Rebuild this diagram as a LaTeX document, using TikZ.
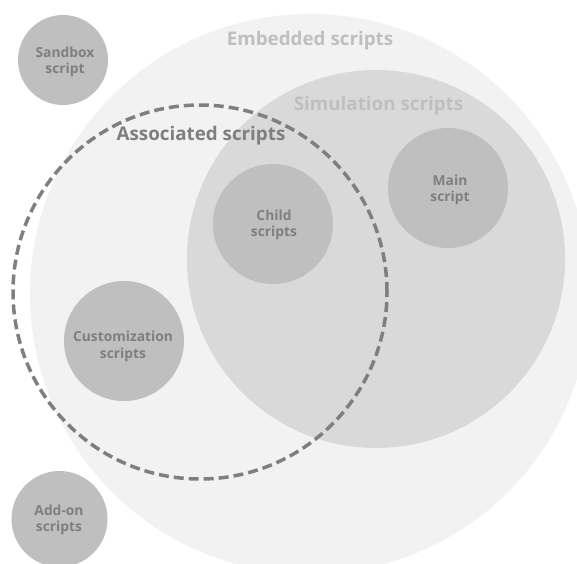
\documentclass[tikz,border=0pt]{standalone}
\usepackage{fontspec}
\setmainfont{Open Sans}
\definecolor{embfill}{HTML}{F2F2F2}
\definecolor{simfill}{HTML}{D9D9D9}
\definecolor{subfill}{HTML}{BFBFBF}
\definecolor{strongtext}{HTML}{7F7F7F}
\definecolor{softtext}{HTML}{BFBFBF}
\begin{document}
\begin{tikzpicture}[x=1pt,y=-1pt,
  blob/.style={circle, inner sep=0pt, outer sep=0pt, draw=none},
  setcircle/.style={circle, inner sep=0pt, outer sep=0pt, draw=strongtext,
    line width=3.5pt, dash pattern=on 10pt off 5pt},
  title/.style={anchor=base, inner sep=0pt, font=\fontsize{18.8}{21}\selectfont\bfseries},
  lbl/.style={align=center, inner sep=0pt, text=strongtext,
    font=\fontsize{13.8}{16.5}\selectfont\bfseries}]
\useasboundingbox (0,0) rectangle (577,563);
\clip (0,0) rectangle (577,563);

% nested sets
\node[blob, fill=embfill, minimum size=560pt] (emb) at (310,294) {};
\node[blob, fill=simfill, minimum size=378pt] (sim) at (376,259) {};

% individual script kinds
\node[blob, fill=subfill, minimum size=90pt]  (sandbox) at (63,60) {};
\node[blob, fill=subfill, minimum size=96pt]  (addon)   at (59.5,519) {};
\node[blob, fill=subfill, minimum size=120pt] (child)   at (273,224) {};
\node[blob, fill=subfill, minimum size=120pt] (main)    at (448,188) {};
\node[blob, fill=subfill, minimum size=120pt] (custom)  at (124,341) {};

% associated scripts boundary
\node[setcircle, minimum size=374pt] (assoc) at (200,292) {};

% set titles
\node[title, text=softtext] (embT) at (310,45) {Embedded scripts};
\node[title, text=softtext] (simT) at (378.5,110) {Simulation scripts};
\node[title, text=strongtext] (assocT) at (201,140) {Associated scripts};

% labels
\node[lbl] (sandboxT) at (65,62)     {Sandbox\\script};
\node[lbl] (addonT)   at (59,520)    {Add-on\\scripts};
\node[lbl] (childT)   at (274,225)   {Child\\scripts};
\node[lbl] (mainT)    at (450,190)   {Main\\script};
\node[lbl] (customT)  at (123,346.5) {Customization\\scripts};
\end{tikzpicture}
\end{document}
